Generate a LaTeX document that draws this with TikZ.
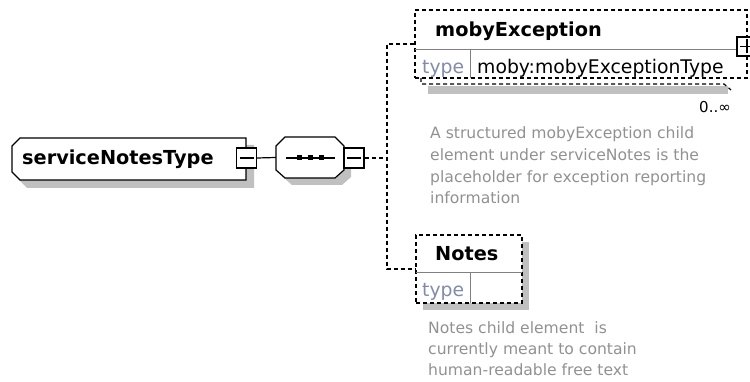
\documentclass[tikz,border=0pt]{standalone}
\usepackage{fontspec}
\setmainfont{DejaVu Sans}
\definecolor{shadowc}{RGB}{192,192,192}
\definecolor{descc}{RGB}{145,145,145}
\definecolor{typec}{RGB}{130,140,170}
\definecolor{sepc}{RGB}{128,128,128}
\begin{document}
\begin{tikzpicture}[x=1pt,y=-1pt,
  solidline/.style={draw=black, line width=1.2pt},
  conn/.style={draw=black, line width=1.2pt, dash pattern=on 4pt off 3pt},
  dbox/.style={draw=black, fill=white, line width=1.2pt, dash pattern=on 4pt off 3pt, inner sep=0pt},
  sepline/.style={draw=sepc, line width=1pt},
  minusbox/.style={draw=black, fill=white, line width=1.1pt, minimum width=20pt, minimum height=20pt, inner sep=0pt,
    path picture={\draw[line width=1.1pt] ([xshift=-7pt]path picture bounding box.center) -- ([xshift=7pt]path picture bounding box.center);}},
  plusbox/.style={draw=black, fill=white, line width=1.1pt, minimum width=20pt, minimum height=19pt, inner sep=0pt,
    path picture={\draw[line width=1.1pt] ([xshift=-7pt]path picture bounding box.center) -- ([xshift=7pt]path picture bounding box.center);
      \draw[line width=1.1pt] ([yshift=-7pt]path picture bounding box.center) -- ([yshift=7pt]path picture bounding box.center);}},
  titletext/.style={font=\fontsize{19.3}{23}\selectfont\bfseries, inner sep=0pt, text=black},
  typetext/.style={font=\fontsize{18.8}{22}\selectfont, inner sep=0pt},
  desc/.style={font=\fontsize{15.6}{21.7}\selectfont, inner sep=0pt, text=descc, anchor=base west},
]
\useasboundingbox (0,0) rectangle (750,382);

% ---------- serviceNotesType (root) ----------
\fill[shadowc] (27,145) -- (254,145) -- (254,188) -- (27,188) -- (19,180) -- (19,155) -- cycle;
\filldraw[solidline, fill=white] (20,138) -- (246,138) -- (246,180) -- (20,180) -- (12,172) -- (12,146) -- cycle;
\node[titletext, anchor=base west] (main) at (22,165) {serviceNotesType};
\node[minusbox] (mainm) at (246.5,158) {};

% ---------- sequence compositor ----------
\fill[shadowc] (292,144) -- (342,144) -- (351,153) -- (351,177) -- (342,185) -- (292,185) -- (283,177) -- (283,153) -- cycle;
\filldraw[solidline, fill=white] (285,137) -- (335,137) -- (344,146) -- (344,170) -- (335,178) -- (285,178) -- (276,170) -- (276,146) -- cycle;
\node[inner sep=0pt, minimum width=68pt, minimum height=41pt] (seq) at (310,157.5) {};
\draw[line width=1.2pt] (286,158) -- (335,158);
\foreach \sx in {299,310,321} { \fill (\sx,158) +(-2.5,-2.5) rectangle +(2.5,2.5); }
\node[minusbox] (seqm) at (354,158) {};
\draw[solidline] (mainm.east) -- (seq.west);

% ---------- mobyException ----------
\fill[shadowc] (428,86) rectangle (728,94);
\draw[conn] (421,78) -- (421,84) -- (724,84) -- (731,90);
\node[dbox, minimum width=332pt, minimum height=68pt] (moby) at (581,44) {};
\draw[sepline] (415,50) -- (747,50);
\draw[sepline] (470,50) -- (470,78);
\node[titletext, anchor=base west] (mobyt) at (435,37) {mobyException};
\node[typetext, text=typec, anchor=base west] (mobyk) at (422,74) {type};
\node[typetext, text=black, anchor=base west] (mobyv) at (477,74) {moby:mobyExceptionType};
\node[plusbox] (mobyp) at (747,46.5) {};
\node[font=\fontsize{15}{18}\selectfont, inner sep=0pt, anchor=base east] (mult) at (731,113) {0..∞};
\node[desc] (d1a) at (430,139) {A structured mobyException child};
\node[desc] (d1b) at (430,160.7) {element under serviceNotes is the};
\node[desc] (d1c) at (430,182.4) {placeholder for exception reporting};
\node[desc] (d1d) at (430,204) {information};

% ---------- Notes ----------
\fill[shadowc] (423,242) rectangle (529,310);
\node[dbox, minimum width=106pt, minimum height=68pt] (notes) at (469,269) {};
\draw[sepline] (416,273) -- (522,273);
\draw[sepline] (470,273) -- (470,303);
\node[titletext, anchor=base west] (notest) at (435,261) {Notes};
\node[typetext, text=typec, anchor=base west] (notesk) at (422,297) {type};
\node[desc] (d2a) at (428,334) {Notes child element\ \ is};
\node[desc] (d2b) at (428,354.5) {currently meant to contain};
\node[desc] (d2c) at (428,375) {human-readable free text};

% ---------- connectors ----------
\coordinate (jm) at (387,158);
\coordinate (jt) at (387,44);
\coordinate (jb) at (387,269);
\draw[conn] (seqm.east) -- (jm);
\draw[conn] (moby.west) -- (jt) -- (jb) -- (notes.west);
\end{tikzpicture}
\end{document}
